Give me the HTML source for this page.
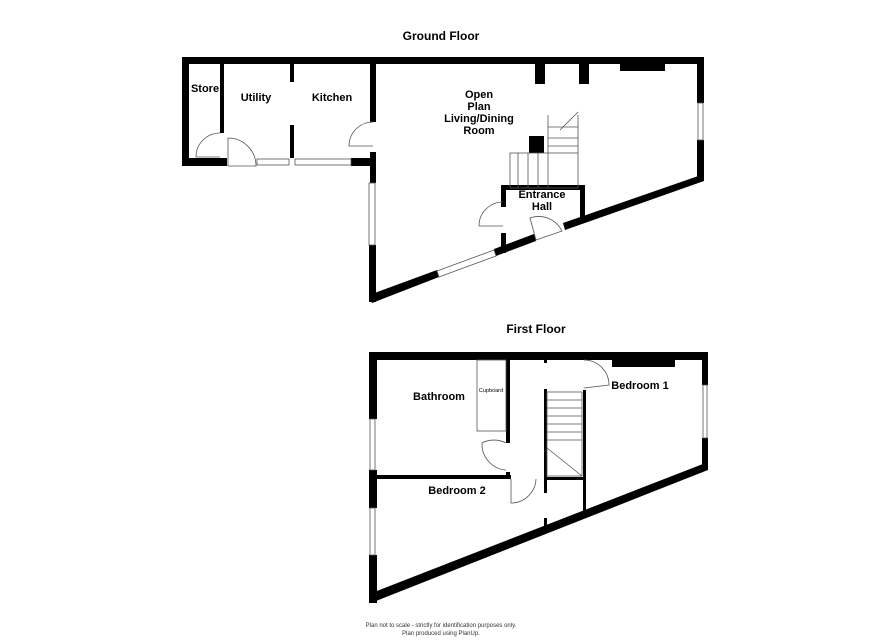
<!DOCTYPE html>
<html><head><meta charset="utf-8"><style>
html,body{margin:0;padding:0;background:#fff;width:886px;height:644px;overflow:hidden}
svg{display:block}
text{font-family:"Liberation Sans",Arial,sans-serif;font-weight:bold;fill:#000}
text.n{font-weight:normal}
</style></head><body>
<svg width="886" height="644" viewBox="0 0 886 644" xmlns="http://www.w3.org/2000/svg">
<text x="441" y="40" font-size="12" text-anchor="middle">Ground Floor</text>
<text x="536" y="333" font-size="12" text-anchor="middle">First Floor</text>

<g fill="#000">
<rect x="182" y="57" width="522" height="7"/>
<rect x="182" y="57" width="7" height="109"/>
<rect x="182" y="158" width="45" height="8"/>
<rect x="351" y="158" width="25" height="8"/>
<rect x="220" y="64" width="4" height="69"/>
<rect x="290" y="64" width="4" height="18"/>
<rect x="290" y="125" width="4" height="33"/>
<rect x="370" y="64" width="6" height="58"/>
<rect x="370" y="152" width="6" height="31"/>
<rect x="369" y="245" width="7" height="57"/>
<rect x="697" y="64" width="7" height="39"/>
<rect x="697" y="140" width="7" height="41"/>
<rect x="535" y="64" width="10" height="20"/>
<rect x="579" y="64" width="10" height="20"/>
<rect x="620" y="64" width="45" height="7"/>
<rect x="529" y="136" width="15" height="17"/>
<polygon points="369,295 437,270 439,277 372,303"/>
<polygon points="494,249 534,234 536,241 496,256"/>
<polygon points="563,223 704,174 704,181 565,230"/>
<rect x="501" y="185" width="84" height="5"/>
<rect x="501" y="185" width="5" height="22"/>
<rect x="501" y="233" width="5" height="20"/>
<rect x="580" y="185" width="5" height="37"/>
</g>
<g fill="none" stroke="#555" stroke-width="0.8">
<rect x="257" y="159" width="32" height="6"/>
<rect x="295" y="159" width="56" height="6"/>
<rect x="369" y="183" width="6" height="62"/>
<rect x="698" y="103" width="5" height="37"/>
<polygon points="437,271 494,250 496,256 439,277"/>
<path d="M220,133 A24,24 0 0 0 196,157 L220,157"/>
<path d="M228,166 L228,138 A28,28 0 0 1 256,166 Z"/>
<path d="M373,122 A24,24 0 0 0 349,146 L373,146"/>
<path d="M503,202 A24,24 0 0 0 479,226 L503,226"/>
<path d="M536,240 L530,218 A26,26 0 0 1 562,231 Z"/>
<rect x="510" y="153" width="68" height="35"/>
<line x1="518" y1="153" x2="518" y2="188"/><line x1="528" y1="153" x2="528" y2="188"/><line x1="538" y1="153" x2="538" y2="188"/><line x1="548" y1="153" x2="548" y2="188"/>
<line x1="548" y1="115" x2="548" y2="153"/><line x1="578" y1="115" x2="578" y2="153"/>
<line x1="548" y1="127" x2="578" y2="127"/><line x1="548" y1="138" x2="578" y2="138"/><line x1="548" y1="146" x2="578" y2="146"/>
<path d="M560,130 L578,112"/>
</g>
<text x="205" y="92" font-size="11" text-anchor="middle">Store</text>
<text x="256" y="101" font-size="11" text-anchor="middle">Utility</text>
<text x="332" y="101" font-size="11" text-anchor="middle">Kitchen</text>
<text x="479" y="98" font-size="11" text-anchor="middle">Open</text>
<text x="479" y="110" font-size="11" text-anchor="middle">Plan</text>
<text x="479" y="122" font-size="11" text-anchor="middle">Living/Dining</text>
<text x="479" y="134" font-size="11" text-anchor="middle">Room</text>
<text x="542" y="198" font-size="11" text-anchor="middle">Entrance</text>
<text x="542" y="210" font-size="11" text-anchor="middle">Hall</text>

<g fill="#000">
<rect x="369" y="352" width="339" height="8"/>
<rect x="369" y="352" width="8" height="67"/>
<rect x="369" y="470" width="8" height="38"/>
<rect x="369" y="555" width="8" height="48"/>
<rect x="702" y="352" width="6" height="33"/>
<rect x="702" y="438" width="6" height="31"/>
<polygon points="369,594 708,462 708,470 371,603"/>
<rect x="377" y="475" width="134" height="4"/>
<rect x="506" y="360" width="4" height="83"/>
<rect x="506" y="472" width="4" height="7"/>
<rect x="544" y="389" width="3" height="104"/>
<rect x="544" y="360" width="3" height="3"/>
<rect x="544" y="518" width="3" height="10"/>
<rect x="583" y="390" width="3" height="122"/>
<rect x="547" y="477" width="36" height="3"/>
<rect x="612" y="360" width="63" height="7"/>
</g>
<g fill="none" stroke="#555" stroke-width="0.8">
<rect x="370" y="419" width="5" height="51"/>
<rect x="370" y="508" width="5" height="47"/>
<rect x="703" y="385" width="4" height="53"/>
<rect x="477" y="360" width="29" height="71"/>
<rect x="547" y="392" width="35" height="84"/>
<line x1="547" y1="400" x2="582" y2="400"/><line x1="547" y1="408" x2="582" y2="408"/><line x1="547" y1="416" x2="582" y2="416"/><line x1="547" y1="424" x2="582" y2="424"/><line x1="547" y1="432" x2="582" y2="432"/><line x1="547" y1="440" x2="582" y2="440"/>
<path d="M547,448 L582,476"/>
<path d="M584,360 A25,25 0 0 1 609,385 L584,388"/>
<path d="M506,443 A26,26 0 0 0 482,443 A26,26 0 0 0 506,470"/>
<path d="M511,479 L511,503 A25,25 0 0 0 536,479"/>
</g>
<text x="439" y="400" font-size="11" text-anchor="middle">Bathroom</text>
<text class="n" x="491" y="392" font-size="5.5" text-anchor="middle">Cupboard</text>
<text x="640" y="389" font-size="11" text-anchor="middle">Bedroom 1</text>
<text x="457" y="494" font-size="11" text-anchor="middle">Bedroom 2</text>

<text class="n" x="441" y="627" font-size="6" text-anchor="middle" style="fill:#333">Plan not to scale - strictly for identification purposes only.</text>
<text class="n" x="441" y="635" font-size="6" text-anchor="middle" style="fill:#333">Plan produced using PlanUp.</text>
</svg>
</body></html>
